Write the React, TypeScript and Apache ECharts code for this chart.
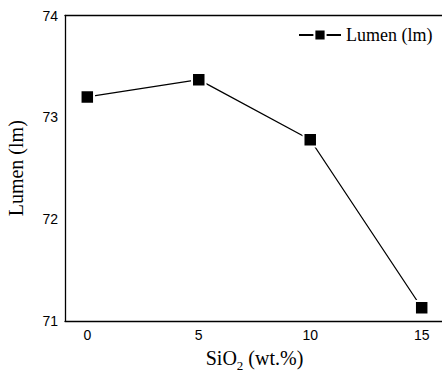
import React, { useEffect, useRef } from "react";
import * as echarts from "echarts";

// SiO2 content (wt.%) and measured luminous flux (lm)
const sio2Content = [0, 5, 10, 15];
const lumenValues = [73.2, 73.37, 72.78, 71.13];
const xTickValues = [0, 5, 10, 15];
const seriesName = "Lumen (lm)";

const SERIF = "'Liberation Serif', 'Times New Roman', serif";
const SANS = "'Liberation Sans', Arial, sans-serif";

export default function App() {
  const ref = useRef<HTMLDivElement>(null);

  useEffect(() => {
    if (!ref.current) return;
    const chart = echarts.init(ref.current, undefined, { renderer: "svg" });
    const axisLine = { show: true, onZero: false, lineStyle: { color: "#000", width: 1.3 } };

    chart.setOption({
      animation: false,
      backgroundColor: "#fff",
      grid: {
        left: 65,
        right: -2,
        top: 15.5,
        bottom: 56,
        containLabel: false,
        outerBoundsMode: "none",
      },
      legend: {
        data: [seriesName],
        left: 298,
        top: 26,
        padding: 0,
        itemWidth: 42,
        itemHeight: 14,
        textStyle: { fontFamily: SERIF, fontSize: 18, color: "#000" },
      },
      xAxis: [
        {
          type: "value",
          min: -1,
          max: 16,
          name: "{n|SiO}{s|2}{n| (wt.%)}",
          nameLocation: "middle",
          nameGap: 23,
          nameMoveOverlap: false,
          nameTextStyle: {
            rich: {
              n: { fontFamily: SERIF, fontSize: 20, color: "#000", lineHeight: 24, verticalAlign: "bottom" },
              s: { fontFamily: SERIF, fontSize: 13, color: "#000", lineHeight: 24, verticalAlign: "bottom", padding: [0, 0, -4, 0] },
            },
          },
          axisLine,
          axisTick: { show: false },
          splitLine: { show: false },
          axisLabel: {
            customValues: xTickValues,
            margin: 7,
            fontFamily: SANS,
            fontSize: 14,
            color: "#000",
          },
        },
        {
          type: "value",
          position: "top",
          min: -1,
          max: 16,
          axisLine,
          axisTick: { show: false },
          axisLabel: { show: false },
          splitLine: { show: false },
        },
      ],
      yAxis: {
        type: "value",
        min: 71,
        max: 74,
        interval: 1,
        name: "Lumen (lm)",
        nameLocation: "middle",
        nameGap: 39,
        nameMoveOverlap: false,
        nameTextStyle: { fontFamily: SERIF, fontSize: 20, color: "#000" },
        axisLine,
        axisTick: { show: false },
        splitLine: { show: false },
        axisLabel: { margin: 7, fontFamily: SANS, fontSize: 14, color: "#000" },
      },
      series: [
        {
          name: seriesName,
          type: "line",
          data: sio2Content.map((x, i) => [x, lumenValues[i]]),
          symbol: "rect",
          symbolSize: 13.5,
          lineStyle: { color: "#000", width: 1.3 },
          itemStyle: { color: "#000", borderColor: "#fff", borderWidth: 2 },
        },
      ],
    });

    return () => chart.dispose();
  }, []);

  return (
    <div
      ref={ref}
      style={{ position: "fixed", left: 0, top: 0, width: 442, height: 377, background: "#fff" }}
    />
  );
}
